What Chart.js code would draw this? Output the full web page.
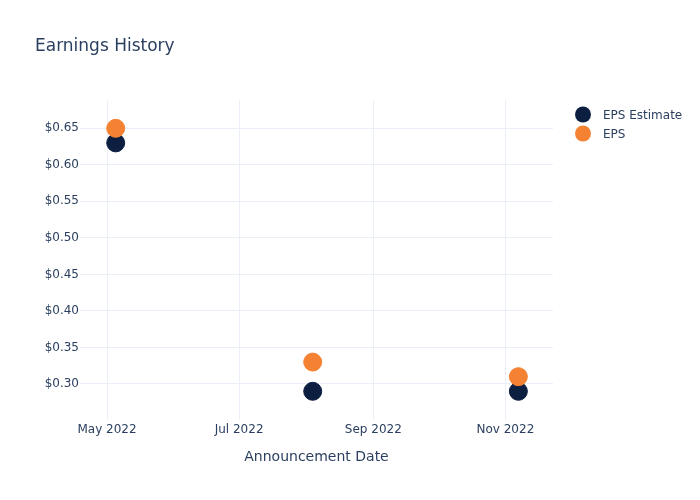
<!DOCTYPE html>
<html>
<head>
<meta charset="utf-8">
<script src="https://cdn.jsdelivr.net/npm/chart.js@4"></script>
<style>
  html, body { margin: 0; padding: 0; background: #fff; }
  #wrap { width: 700px; height: 500px; position: relative; }
</style>
</head>
<body>
<div id="wrap"><canvas id="chart" width="700" height="500"></canvas></div>
<script>
// announcement dates and values
const dates = ['2022-05-05', '2022-08-04', '2022-11-07'];
const epsEstimate = [0.63, 0.29, 0.29];
const eps = [0.65, 0.33, 0.31];
const xTickDates = ['2022-05-01', '2022-07-01', '2022-09-01', '2022-11-01'];
const xTickLabels = ['May 2022', 'Jul 2022', 'Sep 2022', 'Nov 2022'];
const yTicks = [0.30, 0.35, 0.40, 0.45, 0.50, 0.55, 0.60, 0.65];

const DAY = 86400000;
const ts = d => Date.parse(d + 'T00:00:00Z');
const FONT = '"DejaVu Sans", Verdana, sans-serif';
const TEXT = '#2a3f5f';

const navy = '#0d1f41';
const orange = '#f58233';

function toPoints(vals) {
  return vals.map((v, i) => ({ x: ts(dates[i]), y: v }));
}

// title, legend and axis title drawn on the canvas
const extras = {
  id: 'extras',
  afterDraw(chart) {
    const ctx = chart.ctx;
    ctx.save();
    ctx.fillStyle = TEXT;
    ctx.textBaseline = 'alphabetic';
    ctx.font = '17px ' + FONT;
    ctx.textAlign = 'left';
    ctx.fillText('Earnings History', 35, 50.5);

    ctx.textBaseline = 'middle';
    ctx.font = '14px ' + FONT;
    ctx.textAlign = 'center';
    const area = chart.chartArea;
    ctx.fillText('Announcement Date', (area.left + area.right) / 2, 457);

    const items = [['EPS Estimate', navy], ['EPS', orange]];
    ctx.font = '12px ' + FONT;
    ctx.textAlign = 'left';
    items.forEach((it, i) => {
      const y = 114.5 + i * 19;
      ctx.beginPath();
      ctx.arc(583, y, 8, 0, Math.PI * 2);
      ctx.fillStyle = it[1];
      ctx.fill();
      ctx.fillStyle = TEXT;
      ctx.fillText(it[0], 603, y + 1);
    });
    ctx.restore();
  }
};

new Chart(document.getElementById('chart'), {
  type: 'scatter',
  data: {
    datasets: [
      {
        label: 'EPS Estimate',
        data: toPoints(epsEstimate),
        backgroundColor: navy,
        borderColor: navy,
        pointRadius: 9,
        pointHoverRadius: 9,
        order: 2
      },
      {
        label: 'EPS',
        data: toPoints(eps),
        backgroundColor: orange,
        borderColor: orange,
        pointRadius: 9,
        pointHoverRadius: 9,
        order: 1
      }
    ]
  },
  options: {
    responsive: false,
    animation: false,
    layout: { padding: { left: 0, top: 100, right: 147, bottom: 0 } },
    plugins: {
      legend: { display: false },
      title: { display: false },
      tooltip: { enabled: false }
    },
    scales: {
      x: {
        type: 'linear',
        min: ts('2022-04-18') + DAY / 2,
        max: ts('2022-11-23'),
        grid: { color: '#ebf0f8', drawTicks: false },
        border: { display: false },
        afterBuildTicks(axis) {
          axis.ticks = xTickDates.map(d => ({ value: ts(d) }));
        },
        afterFit(axis) { axis.height = 80; },
        ticks: {
          color: TEXT,
          font: { family: FONT, size: 12 },
          padding: 3,
          maxRotation: 0,
          callback: (v) => xTickLabels[xTickDates.findIndex(d => ts(d) === v)]
        }
      },
      y: {
        min: 0.2507,
        max: 0.6887,
        grid: { color: '#ebf0f8', drawTicks: false },
        border: { display: false },
        afterBuildTicks(axis) {
          axis.ticks = yTicks.map(v => ({ value: v }));
        },
        afterFit(axis) { axis.width = 80; },
        ticks: {
          color: TEXT,
          font: { family: FONT, size: 12 },
          padding: 1,
          callback: (v) => '$' + Number(v).toFixed(2)
        }
      }
    }
  },
  plugins: [extras]
});
</script>
</body>
</html>
